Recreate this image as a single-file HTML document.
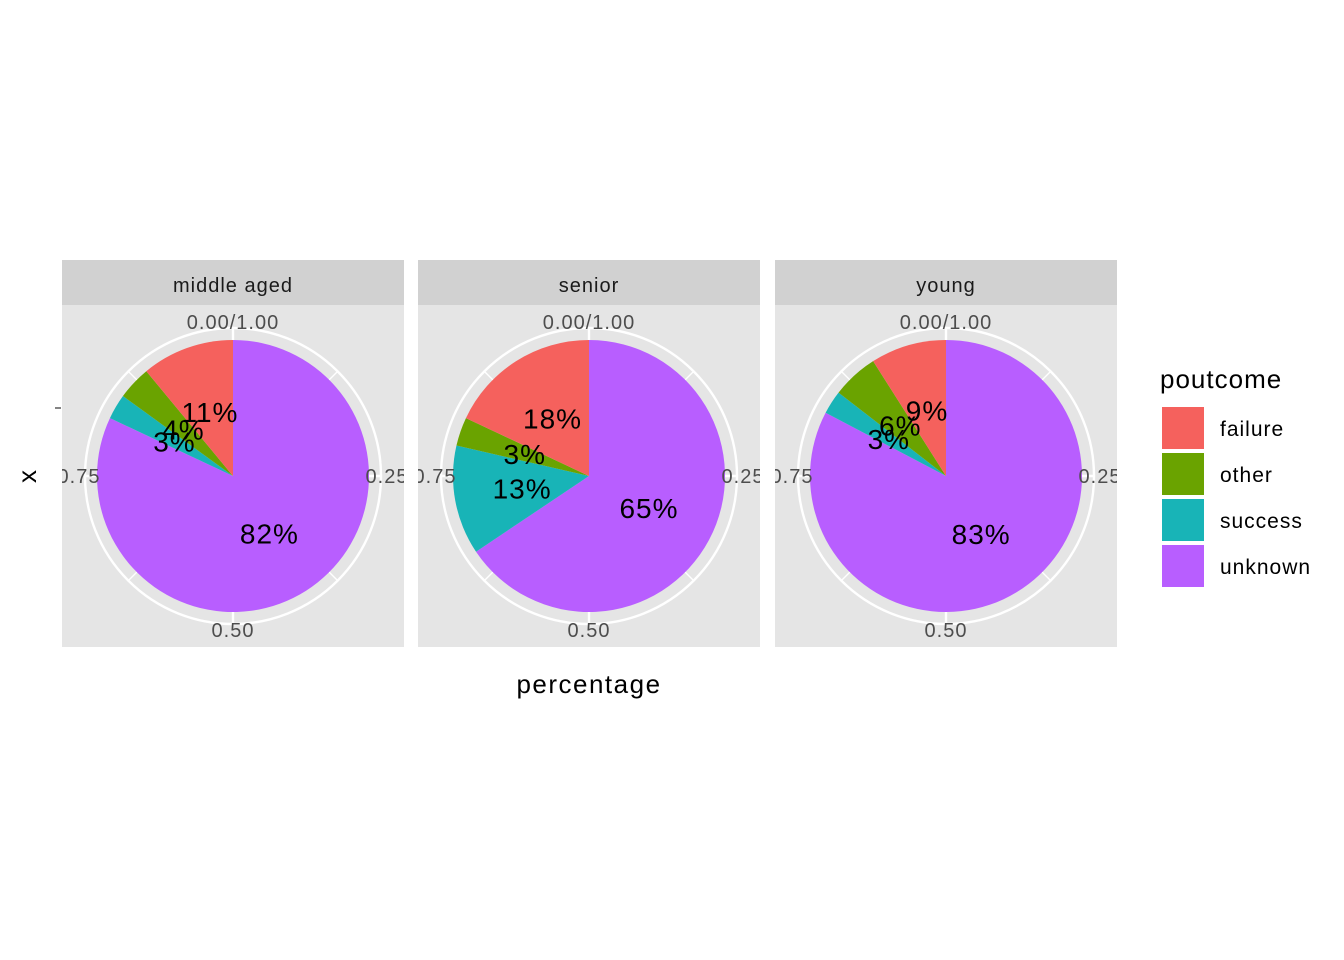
<!DOCTYPE html>
<html><head><meta charset="utf-8">
<style>
body{margin:0;background:#fff;}
svg{display:block;font-family:"Liberation Sans",Arial,sans-serif;}
text{letter-spacing:1px;}
</style></head>
<body>
<svg id="chart" width="1344" height="960" viewBox="0 0 1344 960" xmlns="http://www.w3.org/2000/svg">
<rect width="1344" height="960" fill="#fff"/>
<g id="panels"></g>
<text x="589" y="693" font-size="26" text-anchor="middle" fill="#000" style="letter-spacing:1.5px">percentage</text>
<text x="0" y="0" font-size="26" text-anchor="middle" fill="#000" transform="translate(36,476) rotate(-90)">x</text>
<line x1="55" y1="408" x2="61" y2="408" stroke="#333" stroke-width="1.2"/>
<g id="legend">
<text x="1160" y="388" font-size="26" fill="#000">poutcome</text>
</g>
</svg>
<script>
const facets = ["middle aged","senior","young"];
const categories = ["failure","other","success","unknown"];
const failureVals = [0.11,0.18,0.09];
const otherVals = [0.04,0.034,0.055];
const successVals = [0.03,0.13,0.028];
const unknownVals = [0.82,0.656,0.827];
const labelsFailure = ["11%","18%","9%"];
const labelsOther = ["4%","3%","6%"];
const labelsSuccess = ["3%","13%","3%"];
const labelsUnknown = ["82%","65%","83%"];
const thetaTicks = [0,0.25,0.5,0.75];
const thetaTickLabels = ["0.00/1.00","0.25","0.50","0.75"];
const colors = {failure:"#F5615D",other:"#6AA300",success:"#18B4B7",unknown:"#B85EFF"};

const NS="http://www.w3.org/2000/svg";
const panelsG=document.getElementById('panels');
const panelX=[62,418,775], panelW=342, panelTop=305, panelH=342, stripTop=260;
const pieR=136, gridR=148, tickR=154;
function mk(tag,attrs,parent){const e=document.createElementNS(NS,tag);for(const k in attrs)e.setAttribute(k,attrs[k]);parent.appendChild(e);return e;}
function pt(cx,cy,r,f){const a=f*2*Math.PI;return [cx+r*Math.sin(a),cy-r*Math.cos(a)];}

facets.forEach((name,i)=>{
  const x0=panelX[i];
  const cx=x0+panelW/2, cy=panelTop+panelH/2;
  const g=mk('g',{},panelsG);
  
  
  const clip=mk('clipPath',{id:'clip'+i},g);
  mk('rect',{x:x0,y:panelTop,width:panelW,height:panelH},clip);
  const strip=mk('rect',{x:x0,y:stripTop,width:panelW,height:45,fill:'#D1D1D1'},g);
  
  
  const st=mk('text',{x:cx,y:292,'font-size':20,'text-anchor':'middle',fill:'#1A1A1A'},g);
  st.textContent=name;
  
  
  const bg=mk('rect',{x:x0,y:panelTop,width:panelW,height:panelH,fill:'#E5E5E5'},g);
  
  
  const inner=mk('g',{'clip-path':'url(#clip'+i+')'},g);
  const gc=mk('circle',{cx:cx,cy:cy,r:gridR,fill:'none',stroke:'#fff','stroke-width':2.4},inner);
  
  
  for(let k=0;k<8;k++){
    const p=pt(cx,cy,gridR,k/8);
    const l=mk('line',{x1:cx,y1:cy,x2:p[0],y2:p[1],stroke:'#fff','stroke-width':k%2?1.4:2.4},inner);
    
    
  }
  const vals={failure:failureVals[i],other:otherVals[i],success:successVals[i],unknown:unknownVals[i]};
  const labs={failure:labelsFailure[i],other:labelsOther[i],success:labelsSuccess[i],unknown:labelsUnknown[i]};
  const order=["unknown","success","other","failure"];
  const tot=order.reduce((s,c)=>s+vals[c],0);
  let start=0; const mids={};
  order.forEach(c=>{
    const f0=start/tot, f1=(start+vals[c])/tot;
    const a=pt(cx,cy,pieR,f0), b=pt(cx,cy,pieR,f1);
    const large=(f1-f0)>0.5?1:0;
    const s=mk('path',{d:`M${cx},${cy}L${a[0]},${a[1]}A${pieR},${pieR} 0 ${large} 1 ${b[0]},${b[1]}Z`,fill:colors[c]},inner);
    
    
    mids[c]=(f0+f1)/2; start+=vals[c];
  });
  order.forEach(c=>{
    const p=pt(cx,cy,pieR/2,mids[c]);
    const t=mk('text',{x:p[0],y:p[1]+10,'font-size':28,'text-anchor':'middle',fill:'#000'},inner);
    t.textContent=labs[c];
    
    
  });
  thetaTicks.forEach((f,k)=>{
    const p=pt(cx,cy,tickR,f);
    const t=mk('text',{x:p[0],y:p[1]+7,'font-size':20,'text-anchor':'middle',fill:'#4D4D4D'},inner);
    t.textContent=thetaTickLabels[k];
    
    
  });
});

const lg=document.getElementById('legend');
categories.forEach((c,k)=>{
  const y=407+k*46;
  const r=mk('rect',{x:1162,y:y,width:42,height:42,fill:colors[c]},lg);
  
  
  const t=mk('text',{x:1220,y:y+29,'font-size':21,fill:'#000'},lg);
  t.textContent=c;
  
  
});
</script>
</body></html>
